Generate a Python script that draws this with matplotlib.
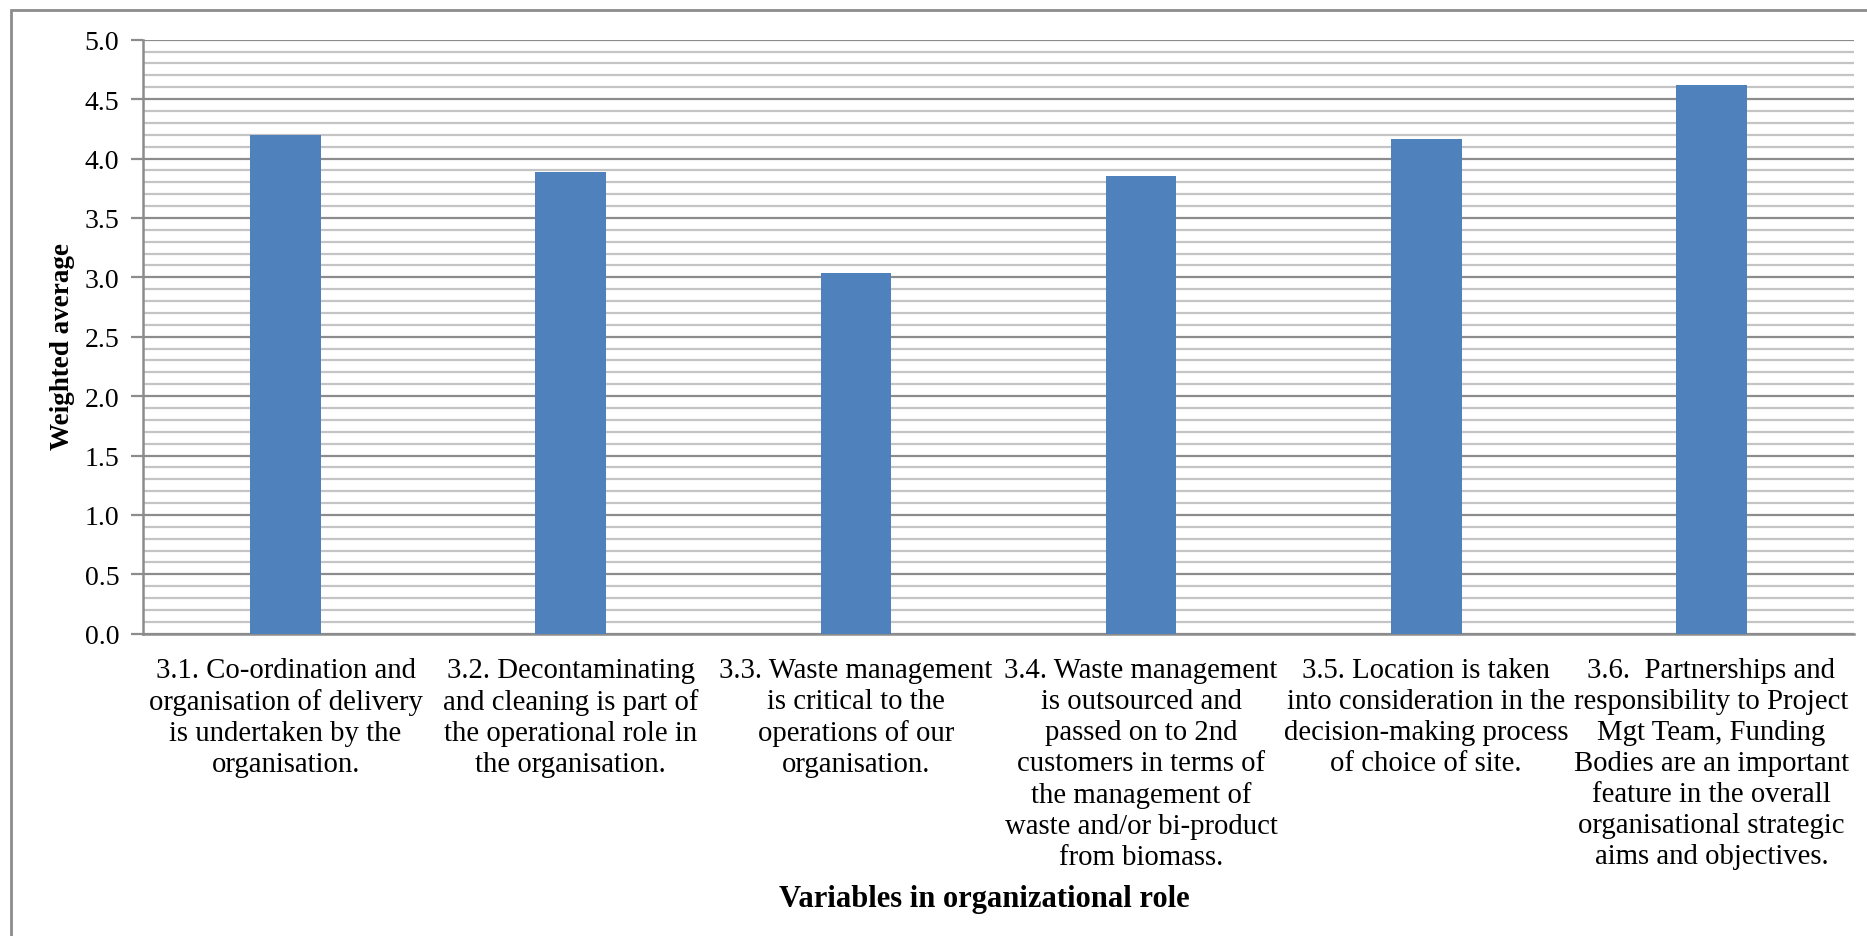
import matplotlib
matplotlib.use("Agg")
import matplotlib.pyplot as plt
from matplotlib.patches import Rectangle
from matplotlib.ticker import MultipleLocator

categories = [
    "3.1. Co-ordination and\norganisation of delivery\nis undertaken by the\norganisation.",
    "3.2. Decontaminating\nand cleaning is part of\nthe operational role in\nthe organisation.",
    "3.3. Waste management\nis critical to the\noperations of our\norganisation.",
    "3.4. Waste management\nis outsourced and\npassed on to 2nd\ncustomers in terms of\nthe management of\nwaste and/or bi-product\nfrom biomass.",
    "3.5. Location is taken\ninto consideration in the\ndecision-making process\nof choice of site.",
    "3.6.  Partnerships and\nresponsibility to Project\nMgt Team, Funding\nBodies are an important\nfeature in the overall\norganisational strategic\naims and objectives.",
]
values = [4.20, 3.89, 3.04, 3.85, 4.16, 4.62]
y_ticks = [0.0, 0.5, 1.0, 1.5, 2.0, 2.5, 3.0, 3.5, 4.0, 4.5, 5.0]
y_tick_labels = ["0.0", "0.5", "1.0", "1.5", "2.0", "2.5", "3.0", "3.5", "4.0", "4.5", "5.0"]

plt.rcParams['font.family'] = ['Liberation Serif', 'DejaVu Serif']

W, H = 1867, 937
fig = plt.figure(figsize=(W / 100, H / 100), dpi=100)

# outer chart border
fig.patches.append(Rectangle((11 / W, -0.05), 1.2, 1 - 11 / H + 0.05, transform=fig.transFigure,
                             fill=False, edgecolor='#8c8c8c', linewidth=2, zorder=0))

ax = fig.add_axes([143 / W, 1 - 634.7 / H, (1854 - 143) / W, (634.7 - 40.7) / H])

x = list(range(len(categories)))
ax.bar(x, values, width=0.248, color='#4F81BD', zorder=3)

ax.set_xlim(-0.5, len(categories) - 0.5)
ax.set_ylim(0, 5.0)
ax.set_yticks(y_ticks)
ax.set_yticklabels(y_tick_labels, fontsize=20)
ax.yaxis.set_minor_locator(MultipleLocator(0.1))
ax.grid(which='major', axis='y', color='#8c8c8c', linewidth=1.6, zorder=1)
ax.grid(which='minor', axis='y', color='#c4c4c4', linewidth=1.6, zorder=1)
ax.tick_params(axis='y', which='major', length=9, width=1.6, color='#8c8c8c', pad=8)
ax.tick_params(axis='y', which='minor', length=0)

ax.set_xticks(x)
ax.set_xticklabels(categories, fontsize=20.7, linespacing=1.245)
ax.tick_params(axis='x', length=0, pad=17)

for s in ['top', 'right']:
    ax.spines[s].set_visible(False)
for s in ['left', 'bottom']:
    ax.spines[s].set_color('#8c8c8c')
    ax.spines[s].set_linewidth(1.8)

ax.set_ylabel("Weighted average", fontsize=19.5, fontweight='bold')
ax.yaxis.set_label_coords((75 - 143) / (1854 - 143), 0.485)
fig.text(984 / W, 1 - 900 / H, "Variables in organizational role", fontsize=22,
         fontweight='bold', ha='center', va='center')

fig.savefig("out.png", dpi=100)
